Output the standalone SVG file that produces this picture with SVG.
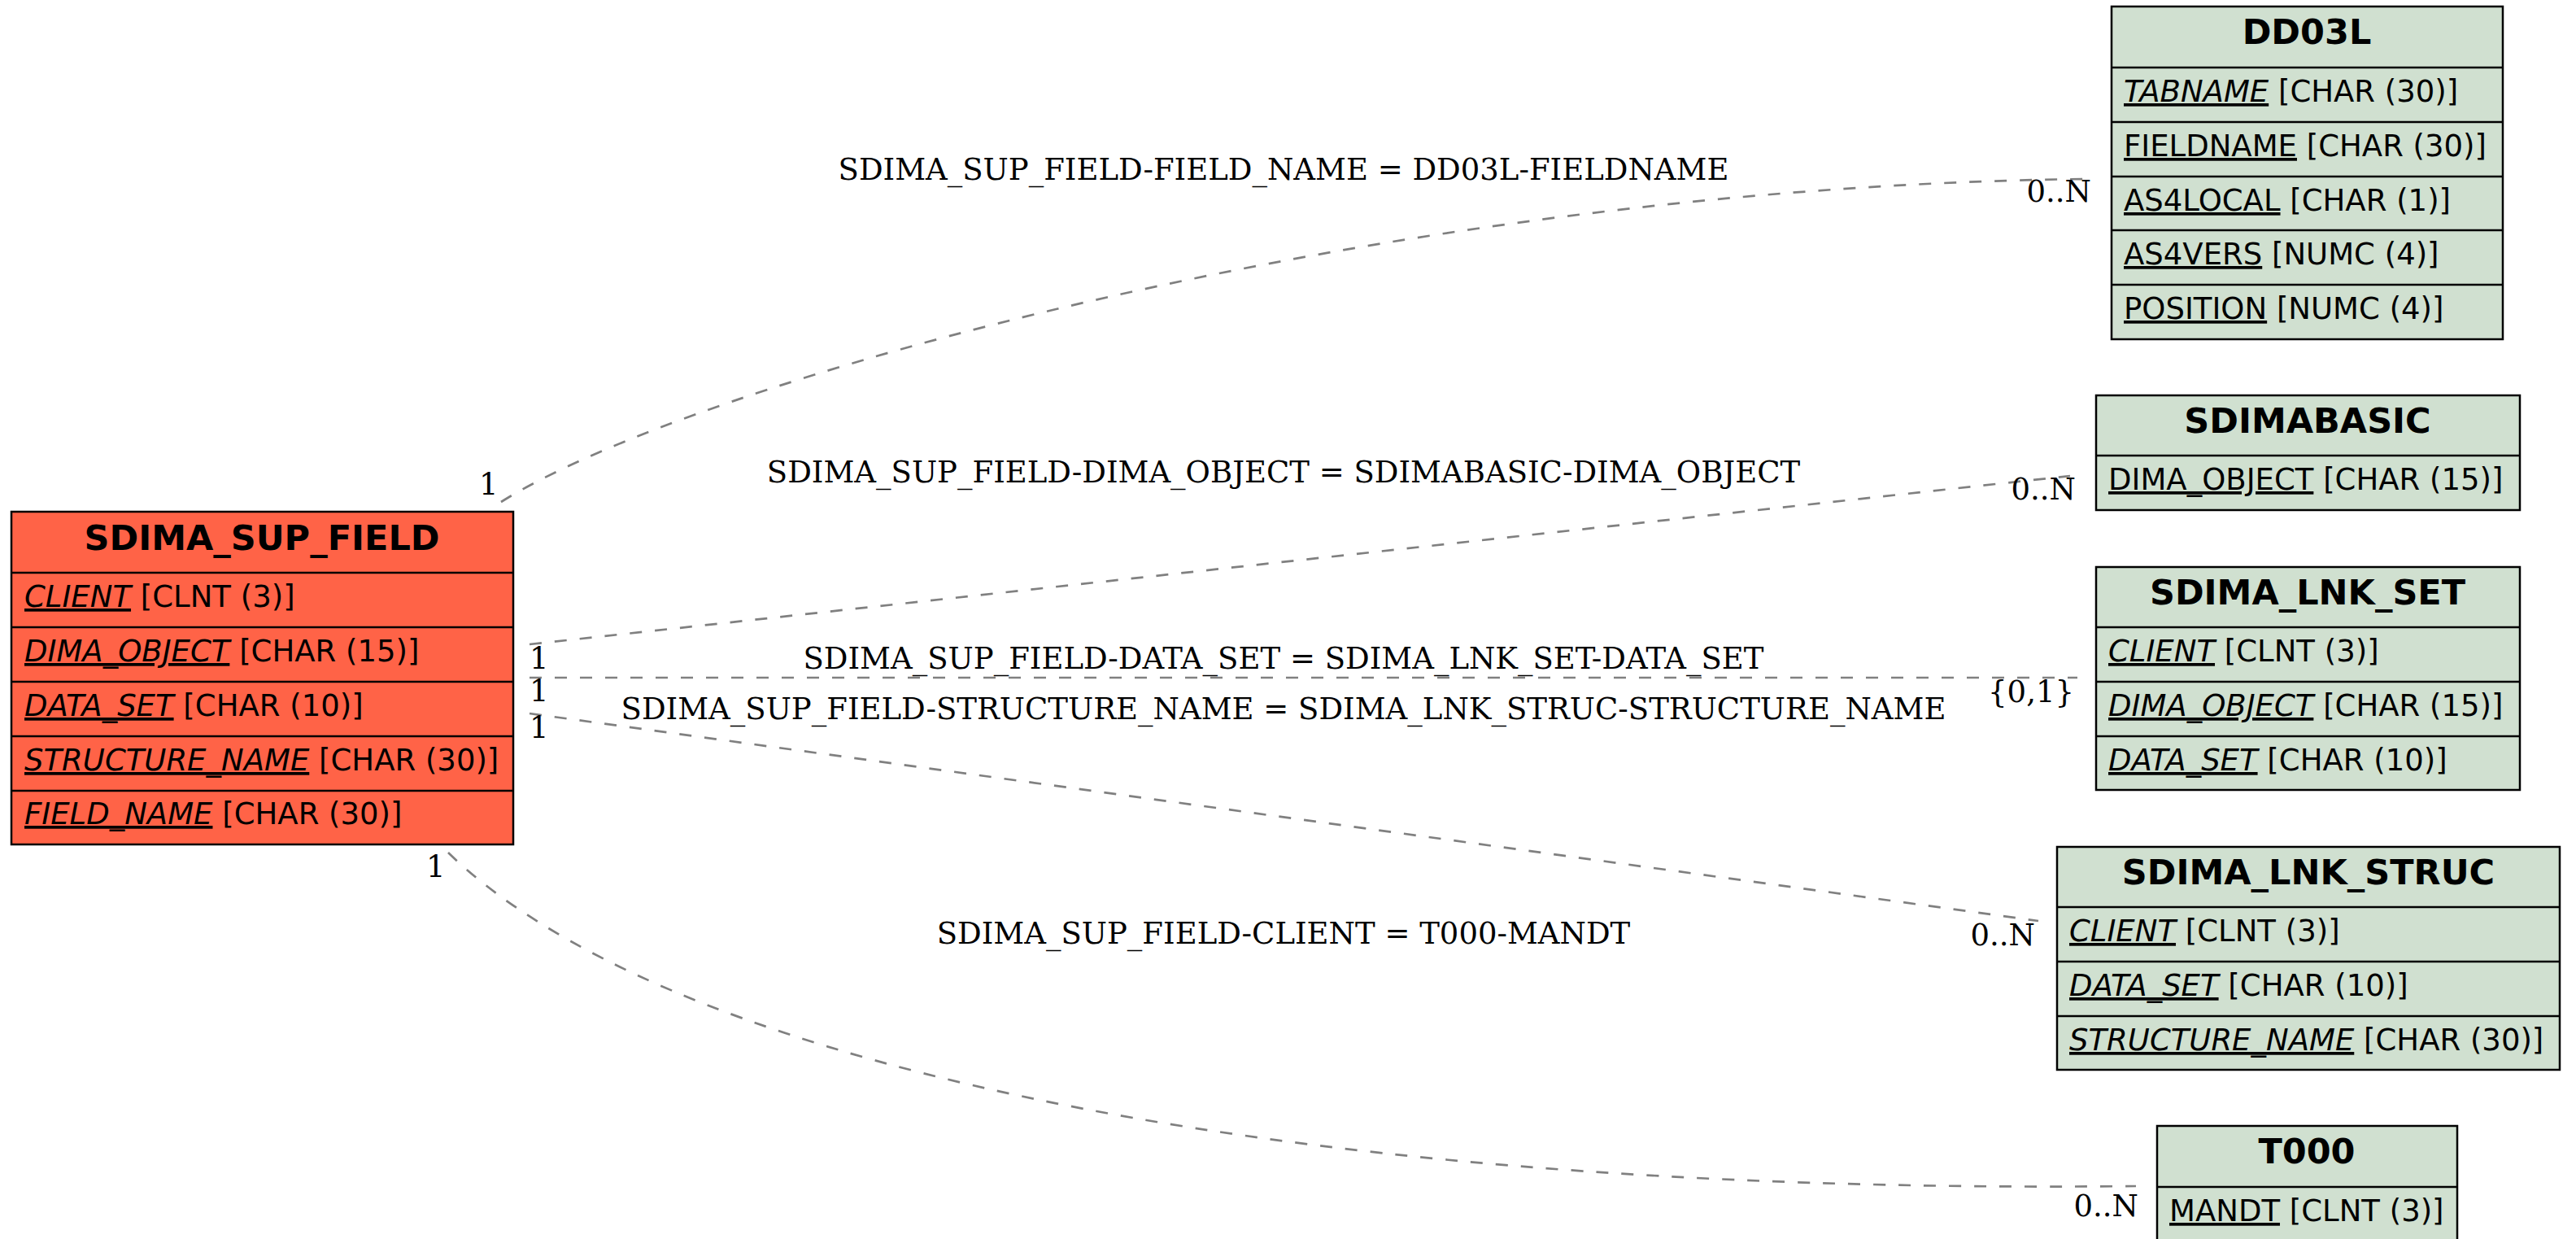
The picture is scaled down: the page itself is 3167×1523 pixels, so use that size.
<svg xmlns="http://www.w3.org/2000/svg" width="3167" height="1523" viewBox="0 0 3167 1523">
<style>
.bg{fill:#ffffff}
.main{fill:#ff6347;stroke:#000;stroke-width:2.5}
.ref{fill:#d0e0d0;stroke:#000;stroke-width:2.5}
.sep{stroke:#000;stroke-width:2.5}
.hd{font-family:"DejaVu Sans",sans-serif;font-weight:bold;font-size:43px;text-anchor:middle;fill:#000}
.row{font-family:"DejaVu Sans",sans-serif;font-size:37px;fill:#000}
.k{text-decoration:underline}
.ki{text-decoration:underline;font-style:italic}
.edge{fill:none;stroke:#808080;stroke-width:2.7;stroke-dasharray:15,16}
.lbl{font-family:"DejaVu Serif",serif;font-size:37px;fill:#000}
.mid{text-anchor:middle}
.end{text-anchor:end}
</style>
<rect class="bg" x="0" y="0" width="3167" height="1523"/>
<g id="connectors">
<path class="edge" d="M616,617 C850,470 1700,230 2563,220"/>
<path class="edge" d="M651,792 L2545,585"/>
<path class="edge" d="M651,833 L2554,833"/>
<path class="edge" d="M651,877 L2506,1132"/>
<path class="edge" d="M551,1048 C800,1290 1500,1470 2626,1458"/>
<text class="lbl mid" x="1578" y="221">SDIMA_SUP_FIELD-FIELD_NAME = DD03L-FIELDNAME</text>
<text class="lbl mid" x="1578" y="593">SDIMA_SUP_FIELD-DIMA_OBJECT = SDIMABASIC-DIMA_OBJECT</text>
<text class="lbl mid" x="1578" y="822">SDIMA_SUP_FIELD-DATA_SET = SDIMA_LNK_SET-DATA_SET</text>
<text class="lbl mid" x="1578" y="884">SDIMA_SUP_FIELD-STRUCTURE_NAME = SDIMA_LNK_STRUC-STRUCTURE_NAME</text>
<text class="lbl mid" x="1578" y="1160">SDIMA_SUP_FIELD-CLIENT = T000-MANDT</text>
<text class="lbl" x="589" y="608">1</text>
<text class="lbl end" x="2571" y="248">0..N</text>
<text class="lbl" x="651" y="822">1</text>
<text class="lbl end" x="2552" y="614">0..N</text>
<text class="lbl" x="651" y="862">1</text>
<text class="lbl end" x="2550" y="863">{0,1}</text>
<text class="lbl" x="651" y="907">1</text>
<text class="lbl end" x="2502" y="1162">0..N</text>
<text class="lbl" x="524" y="1078">1</text>
<text class="lbl end" x="2629" y="1495">0..N</text>
</g>
<g id="SDIMA_SUP_FIELD">
<rect class="main" x="14" y="629" width="617" height="409"/>
<line class="sep" x1="14" y1="704" x2="631" y2="704"/>
<line class="sep" x1="14" y1="771" x2="631" y2="771"/>
<line class="sep" x1="14" y1="838" x2="631" y2="838"/>
<line class="sep" x1="14" y1="905" x2="631" y2="905"/>
<line class="sep" x1="14" y1="972" x2="631" y2="972"/>
<text class="hd" x="322" y="676">SDIMA_SUP_FIELD</text>
<text class="row" x="30" y="746"><tspan class="ki">CLIENT</tspan> [CLNT (3)]</text>
<text class="row" x="30" y="813"><tspan class="ki">DIMA_OBJECT</tspan> [CHAR (15)]</text>
<text class="row" x="30" y="880"><tspan class="ki">DATA_SET</tspan> [CHAR (10)]</text>
<text class="row" x="30" y="947"><tspan class="ki">STRUCTURE_NAME</tspan> [CHAR (30)]</text>
<text class="row" x="30" y="1013"><tspan class="ki">FIELD_NAME</tspan> [CHAR (30)]</text>
</g>
<g id="DD03L">
<rect class="ref" x="2596" y="8" width="481" height="409"/>
<line class="sep" x1="2596" y1="83" x2="3077" y2="83"/>
<line class="sep" x1="2596" y1="150" x2="3077" y2="150"/>
<line class="sep" x1="2596" y1="217" x2="3077" y2="217"/>
<line class="sep" x1="2596" y1="283" x2="3077" y2="283"/>
<line class="sep" x1="2596" y1="350" x2="3077" y2="350"/>
<text class="hd" x="2836" y="54">DD03L</text>
<text class="row" x="2611" y="125"><tspan class="ki">TABNAME</tspan> [CHAR (30)]</text>
<text class="row" x="2611" y="192"><tspan class="k">FIELDNAME</tspan> [CHAR (30)]</text>
<text class="row" x="2611" y="259"><tspan class="k">AS4LOCAL</tspan> [CHAR (1)]</text>
<text class="row" x="2611" y="325"><tspan class="k">AS4VERS</tspan> [NUMC (4)]</text>
<text class="row" x="2611" y="392"><tspan class="k">POSITION</tspan> [NUMC (4)]</text>
</g>
<g id="SDIMABASIC">
<rect class="ref" x="2577" y="486" width="521" height="141"/>
<line class="sep" x1="2577" y1="560" x2="3098" y2="560"/>
<text class="hd" x="2837" y="532">SDIMABASIC</text>
<text class="row" x="2592" y="602"><tspan class="k">DIMA_OBJECT</tspan> [CHAR (15)]</text>
</g>
<g id="SDIMA_LNK_SET">
<rect class="ref" x="2577" y="697" width="521" height="274"/>
<line class="sep" x1="2577" y1="771" x2="3098" y2="771"/>
<line class="sep" x1="2577" y1="838" x2="3098" y2="838"/>
<line class="sep" x1="2577" y1="905" x2="3098" y2="905"/>
<text class="hd" x="2837" y="743">SDIMA_LNK_SET</text>
<text class="row" x="2592" y="813"><tspan class="ki">CLIENT</tspan> [CLNT (3)]</text>
<text class="row" x="2592" y="880"><tspan class="ki">DIMA_OBJECT</tspan> [CHAR (15)]</text>
<text class="row" x="2592" y="947"><tspan class="ki">DATA_SET</tspan> [CHAR (10)]</text>
</g>
<g id="SDIMA_LNK_STRUC">
<rect class="ref" x="2529" y="1041" width="618" height="274"/>
<line class="sep" x1="2529" y1="1115" x2="3147" y2="1115"/>
<line class="sep" x1="2529" y1="1182" x2="3147" y2="1182"/>
<line class="sep" x1="2529" y1="1249" x2="3147" y2="1249"/>
<text class="hd" x="2838" y="1087">SDIMA_LNK_STRUC</text>
<text class="row" x="2544" y="1157"><tspan class="ki">CLIENT</tspan> [CLNT (3)]</text>
<text class="row" x="2544" y="1224"><tspan class="ki">DATA_SET</tspan> [CHAR (10)]</text>
<text class="row" x="2544" y="1291"><tspan class="ki">STRUCTURE_NAME</tspan> [CHAR (30)]</text>
</g>
<g id="T000">
<rect class="ref" x="2652" y="1384" width="369" height="142"/>
<line class="sep" x1="2652" y1="1459" x2="3021" y2="1459"/>
<text class="hd" x="2836" y="1430">T000</text>
<text class="row" x="2667" y="1501"><tspan class="k">MANDT</tspan> [CLNT (3)]</text>
</g>
</svg>
